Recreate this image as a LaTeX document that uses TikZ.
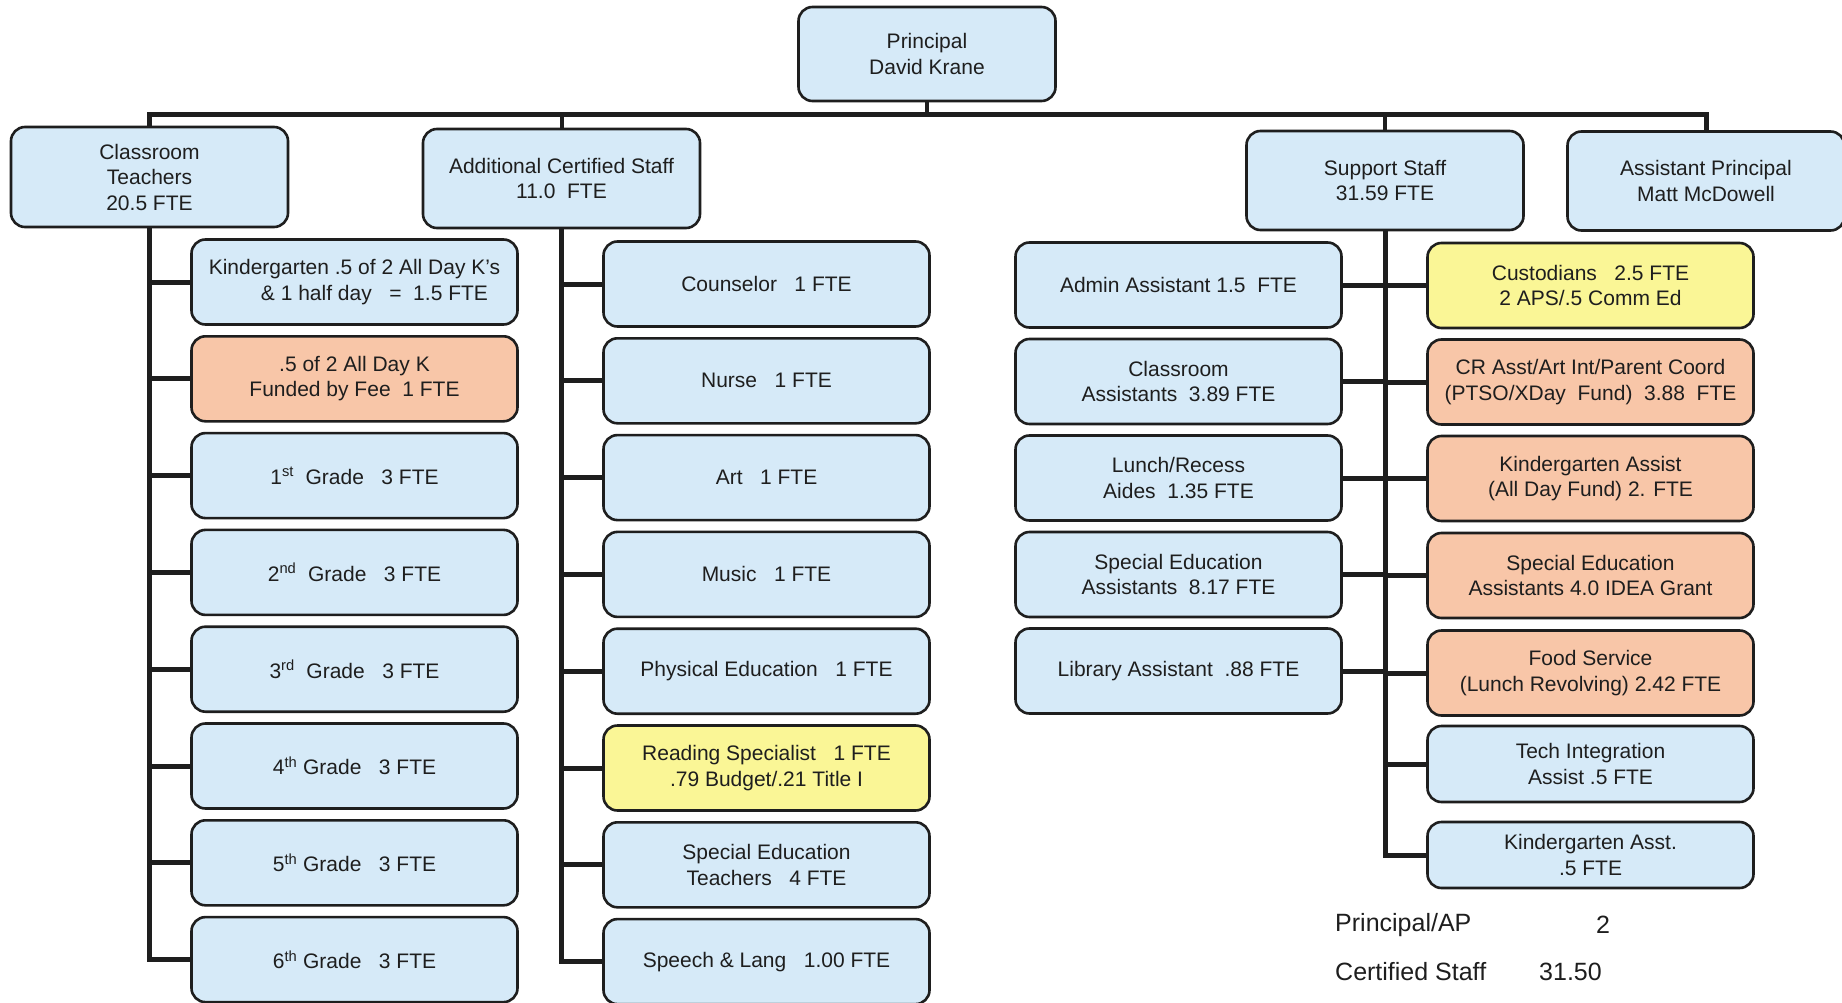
\documentclass[tikz,border=0pt]{standalone}
\usepackage{fontspec}
\setmainfont{Liberation Sans}
\definecolor{boxblue}{RGB}{214,234,248}
\definecolor{boxorange}{RGB}{248,198,168}
\definecolor{boxyellow}{RGB}{250,246,150}
\definecolor{ink}{RGB}{30,30,30}
\begin{document}
\begin{tikzpicture}[x=1pt,y=-1pt,
  box/.style={draw=ink, line width=2.6pt, rounded corners=14pt, align=center,
    inner sep=0pt, font=\fontsize{21}{25.5}\selectfont, text=ink},
  bluebox/.style={box, fill=boxblue},
  orangebox/.style={box, fill=boxorange},
  yellowbox/.style={box, fill=boxyellow},
  head/.style={minimum width=277pt, minimum height=99pt},
  colbox/.style={minimum width=326pt, minimum height=85pt},
  link/.style={draw=ink, line width=5pt},
  drop/.style={draw=ink, line width=4pt},
  total/.style={font=\fontsize{25}{30}\selectfont, text=ink, inner sep=0pt}
]
\clip (0,0) rectangle (1842,1003);
\fill[white] (0,0) rectangle (1842,1003);

% ---- top level ----
\node[bluebox, minimum width=257pt, minimum height=94pt] (principal) at (927,54) {Principal\\David Krane};
\node[bluebox, head, minimum height=100pt] (teachers) at (149.5,177) {Classroom\\Teachers\\20.5 FTE};
\node[bluebox, head] (addl) at (561.5,178.5) {Additional Certified Staff\\11.0\ \ FTE};
\node[bluebox, head] (support) at (1385,180.5) {Support Staff\\31.59 FTE};
\node[bluebox, head] (ap) at (1706,181) {Assistant Principal\\Matt McDowell};

\coordinate (bar) at (927,115);
\draw[drop] (principal.south) -- (principal.south |- bar);
\draw[link] (teachers.north) -- (teachers.north |- bar) -- (ap.north |- bar) -- (ap.north);
\draw[drop] (addl.north) -- (addl.north |- bar);
\draw[drop] (support.north) -- (support.north |- bar);

% ---- classroom teachers ----
\node[bluebox, colbox] (kg) at (354.5,282) {Kindergarten .5 of 2 All Day K's\\\hspace*{1.9em}\& 1 half day\ \ \ =\ \ 1.5 FTE};
\node[orangebox, colbox] (kfee) at (354.5,378.8) {.5 of 2 All Day K\\Funded by Fee\ \ 1 FTE};
\node[bluebox, colbox] (g1) at (354.5,475.6) {1\textsuperscript{st}\ \ Grade\ \ \ 3 FTE};
\node[bluebox, colbox] (g2) at (354.5,572.4) {2\textsuperscript{nd}\ \ Grade\ \ \ 3 FTE};
\node[bluebox, colbox] (g3) at (354.5,669.2) {3\textsuperscript{rd}\ \ Grade\ \ \ 3 FTE};
\node[bluebox, colbox] (g4) at (354.5,766) {4\textsuperscript{th} Grade\ \ \ 3 FTE};
\node[bluebox, colbox] (g5) at (354.5,862.8) {5\textsuperscript{th} Grade\ \ \ 3 FTE};
\node[bluebox, colbox] (g6) at (354.5,959.6) {6\textsuperscript{th} Grade\ \ \ 3 FTE};

\draw[link] (teachers.south) |- (g6.west);
\foreach \n in {kg,kfee,g1,g2,g3,g4,g5}
  \draw[link] (teachers.south |- \n.west) -- (\n.west);

% ---- additional certified staff ----
\node[bluebox, colbox] (couns) at (766.5,284) {Counselor\ \ \ 1 FTE};
\node[bluebox, colbox] (nurse) at (766.5,380.8) {Nurse\ \ \ 1 FTE};
\node[bluebox, colbox] (art) at (766.5,477.6) {Art\ \ \ 1 FTE};
\node[bluebox, colbox] (music) at (766.5,574.4) {Music\ \ \ 1 FTE};
\node[bluebox, colbox] (pe) at (766.5,671.2) {Physical Education\ \ \ 1 FTE};
\node[yellowbox, colbox] (read) at (766.5,768) {Reading Specialist\ \ \ 1 FTE\\.79 Budget/.21 Title I};
\node[bluebox, colbox] (sped) at (766.5,864.8) {Special Education\\Teachers\ \ \ 4 FTE};
\node[bluebox, colbox] (speech) at (766.5,961.6) {Speech \& Lang\ \ \ 1.00 FTE};

\draw[link] (addl.south) |- (speech.west);
\foreach \n in {couns,nurse,art,music,pe,read,sped}
  \draw[link] (addl.south |- \n.west) -- (\n.west);

% ---- support staff ----
\node[bluebox, colbox] (admin) at (1178.5,285) {Admin Assistant 1.5\ \ FTE};
\node[bluebox, colbox] (classa) at (1178.5,381.5) {Classroom\\Assistants\ \ 3.89 FTE};
\node[bluebox, colbox] (lunch) at (1178.5,478) {Lunch/Recess\\Aides\ \ 1.35 FTE};
\node[bluebox, colbox] (speda) at (1178.5,574.5) {Special Education\\Assistants\ \ 8.17 FTE};
\node[bluebox, colbox] (lib) at (1178.5,671) {Library Assistant\ \ .88 FTE};

\node[yellowbox, colbox] (cust) at (1590.5,285.5) {Custodians\ \ \ 2.5 FTE\\2 APS/.5 Comm Ed};
\node[orangebox, colbox] (crasst) at (1590.5,382) {CR Asst/Art Int/Parent Coord\\(PTSO/XDay\ \ Fund)\ \ 3.88\ \ FTE};
\node[orangebox, colbox] (kassist) at (1590.5,478.5) {Kindergarten Assist\\(All Day Fund) 2. FTE};
\node[orangebox, colbox] (spedg) at (1590.5,575.5) {Special Education\\Assistants 4.0 IDEA Grant};
\node[orangebox, colbox] (food) at (1590.5,673) {Food Service\\(Lunch Revolving) 2.42 FTE};
\node[bluebox, colbox, minimum height=76pt] (tech) at (1590.5,764) {Tech Integration\\Assist .5 FTE};
\node[bluebox, colbox, minimum height=66pt] (kasst) at (1590.5,855) {Kindergarten Asst.\\.5 FTE};

\draw[link] (support.south) |- (kasst.west);
\foreach \n in {admin,classa,lunch,speda,lib}
  \draw[link] (\n.east) -- (\n.east -| support.south);
\foreach \n in {cust,crasst,kassist,spedg,food,tech}
  \draw[link] (support.south |- \n.west) -- (\n.west);

% ---- totals ----
\node[total, anchor=west] (paplab) at (1335,925) {Principal/AP};
\node[total] (papnum) at (1603,925) {2};
\node[total, anchor=west] (certlab) at (1335,972) {Certified Staff};
\node[total, anchor=west] (certnum) at (1539,972) {31.50};
\end{tikzpicture}
\end{document}
